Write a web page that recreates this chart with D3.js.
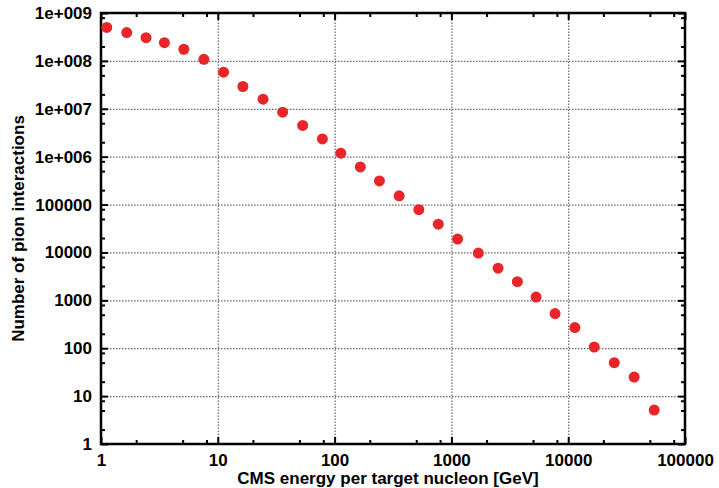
<!DOCTYPE html>
<html>
<head>
<meta charset="utf-8">
<script src="https://cdn.jsdelivr.net/npm/d3@7"></script>
<style>
body { margin: 0; background: #fff; }
text { font-family: "Liberation Sans", Arial, sans-serif; font-weight: bold; fill: #000; }
</style>
</head>
<body>
<svg id="chart" width="719" height="488"></svg>
<script>
// CMS energy per target nucleon [GeV]
var energy = [1.12, 1.66, 2.43, 3.49, 5.12, 7.6, 11.2, 16.4, 24.4, 35.9, 53.3, 78.6, 113, 166, 242, 357, 526, 772, 1130, 1700, 2510, 3670, 5310, 7720, 11400, 16700, 24800, 36700, 54500];
// number of pion interactions
var interactions = [5.0e8, 3.9e8, 3.06e8, 2.4e8, 1.75e8, 1.08e8, 5.8e7, 2.92e7, 1.59e7, 8.5e6, 4.5e6, 2.34e6, 1.18e6, 6.1e5, 3.12e5, 1.52e5, 7.8e4, 3.9e4, 1.9e4, 9.7e3, 4.7e3, 2.45e3, 1.17e3, 528, 270, 106, 50, 25, 5.1];

var xTicks = [1, 10, 100, 1000, 10000, 100000];
var xTickLabels = ["1", "10", "100", "1000", "10000", "100000"];
var yTicks = [1, 10, 100, 1000, 10000, 100000, 1e6, 1e7, 1e8, 1e9];
var yTickLabels = ["1", "10", "100", "1000", "10000", "100000", "1e+006", "1e+007", "1e+008", "1e+009"];

var margin = {top: 13, right: 34, bottom: 44, left: 101},
	width = 719 - margin.left - margin.right,
	height = 488 - margin.top - margin.bottom;

var svg = d3.select("#chart");
var g = svg.append("g")
	.attr("transform", "translate(" + margin.left + "," + margin.top + ")");

var x = d3.scaleLog().domain([1, 100000]).range([0, width]);
var y = d3.scaleLog().domain([1, 1e9]).range([height, 0]);

// minor ticks at 2, 5, 8 of every decade
var minorX = [], minorY = [];
xTicks.forEach(function(t){ [2,5,8].forEach(function(m){ if (t*m < 100000) minorX.push(t*m); }); });
yTicks.forEach(function(t){ [2,5,8].forEach(function(m){ if (t*m < 1e9) minorY.push(t*m); }); });

// grid
g.append("g")
	.attr("class", "grid")
	.attr("transform", "translate(0," + height + ")")
	.call(d3.axisBottom(x).tickValues(xTicks.slice(1, -1)).tickSize(-height).tickFormat(""));
g.append("g")
	.attr("class", "grid")
	.call(d3.axisLeft(y).tickValues(yTicks.slice(1, -1)).tickSize(-width).tickFormat(""));
g.selectAll(".grid path").remove();
g.selectAll(".grid line")
	.attr("stroke", "#666")
	.attr("stroke-width", 1.2)
	.attr("stroke-dasharray", "1.5,1.5");

// ticks on all four sides, pointing inward
function ticks(makeAxis, tr, major, minor, labels) {
	var a = g.append("g").attr("transform", tr);
	a.call(makeAxis().tickValues(major).tickSize(-7).tickPadding(9)
		.tickFormat(function(d, i){ return labels ? labels[i] : ""; }));
	var b = g.append("g").attr("transform", tr);
	b.call(makeAxis().tickValues(minor).tickSize(-4).tickFormat(""));
	b.select("path").remove();
	a.select("path").remove();
	[a, b].forEach(function(s){ s.selectAll("line").attr("stroke", "#000").attr("stroke-width", 2); });
	return a;
}

var xa = ticks(function(){ return d3.axisBottom(x); }, "translate(0," + height + ")", xTicks, minorX, xTickLabels);
ticks(function(){ return d3.axisTop(x); }, "translate(0,0)", xTicks, minorX, null);
var ya = ticks(function(){ return d3.axisLeft(y); }, "translate(0,0)", yTicks, minorY, yTickLabels);
ticks(function(){ return d3.axisRight(y); }, "translate(" + width + ",0)", yTicks, minorY, null);

xa.selectAll("text").style("font-size", "17px").attr("fill", "#000").attr("dy", "0.75em").attr("y", 9);
ya.selectAll("text").style("font-size", "17px").attr("fill", "#000").attr("x", -9);
g.selectAll(".tick text").style("font-family", "'Liberation Sans', Arial, sans-serif").style("font-weight", "bold");

// frame
g.append("rect")
	.attr("width", width)
	.attr("height", height)
	.attr("fill", "none")
	.attr("stroke", "#000")
	.attr("stroke-width", 2.5);

// points
var pts = energy.map(function(d, i){ return {e: d, n: interactions[i]}; });
g.selectAll("circle")
	.data(pts)
	.enter()
	.append("circle")
	.attr("cx", function(d){ return x(d.e); })
	.attr("cy", function(d){ return y(d.n); })
	.attr("r", 5.5)
	.attr("fill", "#e8262a");

// axis titles
svg.append("text")
	.attr("x", 388)
	.attr("y", 484)
	.attr("text-anchor", "middle")
	.style("font-size", "17px")
	.text("CMS energy per target nucleon [GeV]");

svg.append("text")
	.attr("transform", "translate(24," + (margin.top + height / 2) + ") rotate(-90)")
	.attr("text-anchor", "middle")
	.style("font-size", "17px")
	.text("Number of pion interactions");
</script>
</body>
</html>
